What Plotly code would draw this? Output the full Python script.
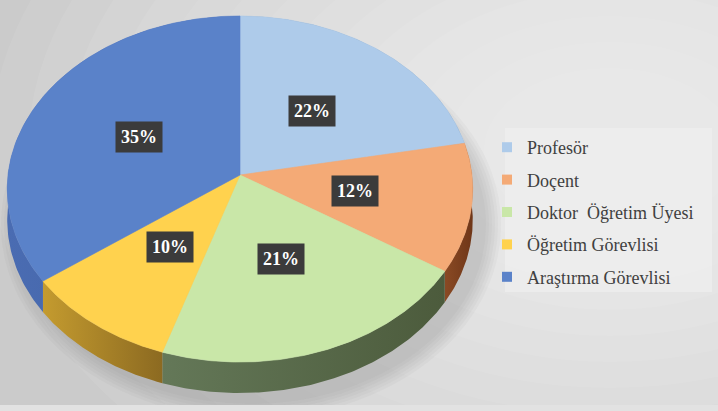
import numpy as np
import plotly.graph_objects as go

# ---------------- data ----------------
categories = ["Profesör", "Doçent", "Doktor  Öğretim Üyesi", "Öğretim Görevlisi", "Araştırma Görevlisi"]
values = [22, 12, 21, 10, 35]
face_colors = ["#aecbea", "#f4aa76", "#c9e7a8", "#ffd24e", "#5a82c9"]
side_colors = [("#8aa3bd", "#7891ab"), ("#8a4a24", "#6f3618"), ("#647858", "#4c5b3c"),
               ("#c49b2f", "#8c6a21"), ("#4a6cb2", "#3f5fa0")]

W, H = 718, 411
CX, CY = 240.0, 175.0      # apex of the pie (pixels)
KX, KY, P = 232.0, 171.9, 0.081   # projection params
DEPTH = 31.0
SERIF = "Liberation Serif"


def project(theta_deg, r=1.0):
    t = np.radians(theta_deg)
    X = r * np.sin(t)
    Y = r * np.cos(t)
    d = 1 + P * Y
    return CX + KX * X / d, CY - KY * Y / d


total = float(sum(values))
bounds = np.concatenate([[0], np.cumsum(values)]) / total * 360.0

fig = go.Figure()

# ---- side walls ----
for i, (a0, a1) in enumerate(zip(bounds[:-1], bounds[1:])):
    th = np.linspace(a0, a1, 120)
    x, y = project(th)
    xs = np.concatenate([x, x[::-1]])
    ys = np.concatenate([y, (y + DEPTH)[::-1]])
    c1, c2 = side_colors[i]
    fig.add_trace(go.Scatter(
        x=xs, y=ys, mode="lines", fill="toself", line=dict(width=0, color=c2),
        fillgradient=dict(type="horizontal", colorscale=[[0, c1], [1, c2]]),
        showlegend=False, hoverinfo="skip"))

# ---- top faces ----
for i, (a0, a1) in enumerate(zip(bounds[:-1], bounds[1:])):
    th = np.linspace(a0, a1, 150)
    x, y = project(th)
    xs = np.concatenate([[CX], x, [CX]])
    ys = np.concatenate([[CY], y, [CY]])
    fig.add_trace(go.Scatter(
        x=xs, y=ys, mode="lines", fill="toself", fillcolor=face_colors[i],
        line=dict(width=0.6, color=face_colors[i]),
        showlegend=False, hoverinfo="text", text=categories[i]))

# ---- legend entries ----
for i, name in enumerate(categories):
    fig.add_trace(go.Scatter(
        x=[None], y=[None], mode="markers", name=name, legendgroup=str(i),
        marker=dict(symbol="square", size=10, color=face_colors[i])))

# ---- labels ----
annotations = []
for i, (a0, a1) in enumerate(zip(bounds[:-1], bounds[1:])):
    lx, ly = project((a0 + a1) / 2, 0.5)
    annotations.append(dict(
        x=lx, y=ly, xref="x", yref="y", showarrow=False,
        text="<b>%d%%</b>" % round(values[i] / total * 100),
        font=dict(family=SERIF, size=18, color="white"),
        bgcolor="#3b3b3b", borderpad=5))

# ---- background gradient + shadow ----
shapes = []
for k in range(14):
    rx = 620 - k * 38
    ry = 420 - k * 26
    shapes.append(dict(type="circle", xref="x", yref="y", layer="below",
                       x0=610 - rx, x1=610 + rx, y0=150 - ry, y1=150 + ry,
                       fillcolor="white", opacity=0.07, line=dict(width=0)))
for k in range(6):
    g = 4 + k * 3
    shapes.append(dict(type="circle", xref="x", yref="y", layer="below",
                       x0=8 - g + 12, x1=470 + g + 12, y0=30 - g + 20, y1=394 + g + 6,
                       fillcolor="#707070", opacity=0.05, line=dict(width=0)))
shapes.append(dict(type="rect", xref="x", yref="y", layer="below",
                   x0=505, x1=712, y0=128, y1=292,
                   fillcolor="#ededed", opacity=0.85, line=dict(width=0)))
shapes.append(dict(type="rect", xref="x", yref="y", layer="below",
                   x0=0, x1=W, y0=405, y1=H,
                   fillcolor="#e2e2e2", line=dict(width=0)))

fig.update_layout(
    width=W, height=H, margin=dict(l=0, r=0, t=0, b=0),
    paper_bgcolor="#cbcbcb", plot_bgcolor="rgba(0,0,0,0)",
    font=dict(family=SERIF),
    xaxis=dict(range=[0, W], visible=False, fixedrange=True),
    yaxis=dict(range=[H, 0], visible=False, fixedrange=True),
    annotations=annotations, shapes=shapes,
    legend=dict(x=487 / W, y=1 - 129 / H, xanchor="left", yanchor="top",
                bgcolor="rgba(0,0,0,0)", tracegroupgap=6,
                font=dict(family=SERIF, size=18, color="#404040")),
)

fig.write_html("out.html", config={"displayModeBar": False},
               post_script="document.body.style.margin='0';document.body.style.overflow='hidden';")
